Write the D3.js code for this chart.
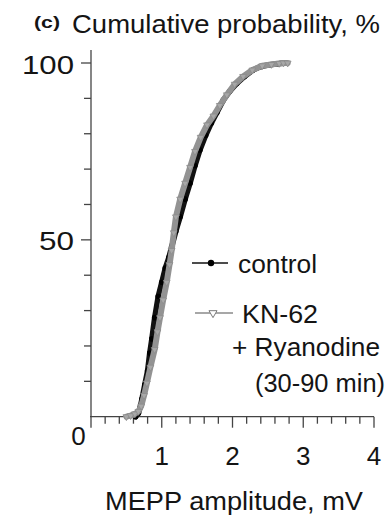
<!DOCTYPE html>
<html><head><meta charset="utf-8">
<script src="https://cdn.jsdelivr.net/npm/d3@7"></script>
<style>
html,body{margin:0;padding:0;background:#fff;}
svg{display:block;}
text{font-family:"Liberation Sans",Arial,sans-serif;fill:#141414;}
</style></head>
<body>
<svg id="chart" width="391" height="523"></svg>
<script>
// ---- data ----
const controlAmp = [0.63,0.67,0.70,0.72,0.76,0.80,0.83,0.86,0.90,0.95,1.00,1.05,1.10,1.14,1.20,1.26,1.33,1.40,1.47,1.54,1.62,1.70,1.78,1.87,1.96,2.06,2.17,2.29,2.40,2.52,2.65,2.74];
const controlPct = [0,1,3,5,9,13,18,22,28,34,38,42,45,48,52.5,56.5,61.5,66,71,75.4,79.5,83,86,89.5,92,94.2,96.2,98,99,99.5,99.8,100];
const knAmp = [0.50,0.56,0.62,0.67,0.71,0.75,0.79,0.84,0.90,0.94,0.975,1.02,1.07,1.11,1.14,1.17,1.20,1.26,1.33,1.40,1.47,1.55,1.64,1.73,1.82,1.92,2.03,2.15,2.28,2.42,2.55,2.66,2.72,2.78];
const knPct = [0,0.3,0.8,1.5,3,6,9.5,14,19,24,28,33,38,43,47,52,56.5,61.5,66,70.5,75,79,82.5,85,88,91,94,96.2,98,99.2,99.6,99.9,100,100];
const xTickLabels = ["1","2","3","4"];
const xTickValues = [1,2,3,4];
const yTickLabels = ["50","100"];
const yTickValues = [50,100];
const seriesNames = ["control","KN-62"];

const svg = d3.select("#chart");
const x = d3.scaleLinear().domain([0,4]).range([91,374]);
const y = d3.scaleLinear().domain([0,100]).range([416.7,63]);
const axisColor = "#444";

// y axis
const yMinor = d3.range(10,101,10).filter(v=>v!==50 && v!==100);
const gy = svg.append("g").attr("transform",`translate(${x(0)},0)`);
gy.append("line").attr("x1",0).attr("x2",0).attr("y1",y(0)).attr("y2",y(103.7))
  .attr("stroke",axisColor).attr("stroke-width",1.3);
gy.selectAll(".ymaj").data(yTickValues).join("line")
  .attr("x1",-10).attr("x2",0).attr("y1",d=>y(d)).attr("y2",d=>y(d))
  .attr("stroke",axisColor).attr("stroke-width",1.3);
gy.selectAll(".ymin").data(yMinor).join("line")
  .attr("x1",-7).attr("x2",0).attr("y1",d=>y(d)).attr("y2",d=>y(d))
  .attr("stroke",axisColor).attr("stroke-width",1.3);

// x axis
const xMinor = d3.range(0,4.001,0.2).filter(v=>Math.abs(v-Math.round(v))>1e-6);
const gx = svg.append("g").attr("transform",`translate(0,${y(0)})`);
gx.append("line").attr("x1",x(0)-1).attr("x2",x(4)).attr("y1",0).attr("y2",0)
  .attr("stroke",axisColor).attr("stroke-width",1.3);
gx.selectAll(".xmaj").data([0].concat(xTickValues)).join("line")
  .attr("x1",d=>x(d)).attr("x2",d=>x(d)).attr("y1",0).attr("y2",11)
  .attr("stroke",axisColor).attr("stroke-width",1.3);
gx.selectAll(".xmin").data(xMinor).join("line")
  .attr("x1",d=>x(d)).attr("x2",d=>x(d)).attr("y1",0).attr("y2",7)
  .attr("stroke",axisColor).attr("stroke-width",1.3);

// tick labels
const yLabW = {"50":35,"100":52};
svg.selectAll(".ylab").data(yTickValues).join("text")
  .attr("x",74).attr("y",d=>y(d)+10.5).attr("text-anchor","end")
  .attr("font-size",26).attr("textLength",(d,i)=>yLabW[yTickLabels[i]])
  .attr("lengthAdjust","spacingAndGlyphs").text((d,i)=>yTickLabels[i]);
svg.append("text").attr("x",78.5).attr("y",445).attr("text-anchor","middle")
  .attr("font-size",26).text("0");
svg.selectAll(".xlab").data(xTickValues).join("text")
  .attr("x",d=>x(d)).attr("y",465).attr("text-anchor","middle")
  .attr("font-size",26).text((d,i)=>xTickLabels[i]);

// titles
svg.append("text").attr("x",34).attr("y",28).attr("font-size",17).attr("font-weight","bold")
  .attr("textLength",26).attr("lengthAdjust","spacingAndGlyphs").text("(c)");
svg.append("text").attr("x",72).attr("y",33).attr("font-size",25.5)
  .attr("textLength",308).attr("lengthAdjust","spacingAndGlyphs").text("Cumulative probability, %");
svg.append("text").attr("x",105).attr("y",510).attr("font-size",25.5)
  .attr("textLength",258).attr("lengthAdjust","spacingAndGlyphs").text("MEPP amplitude, mV");

// series
const ctrl = controlAmp.map((a,i)=>({a,p:controlPct[i]}));
const kn = knAmp.map((a,i)=>({a,p:knPct[i]}));
const line = d3.line().x(d=>x(d.a)).y(d=>y(d.p));

svg.append("path").datum(ctrl).attr("d",line).attr("fill","none")
  .attr("stroke","#111").attr("stroke-width",5.5).attr("stroke-linejoin","round").attr("stroke-linecap","round");
svg.selectAll(".cdot").data(ctrl).join("circle")
  .attr("cx",d=>x(d.a)).attr("cy",d=>y(d.p)).attr("r",2.8).attr("fill","#000");

const tri = d3.symbol().type(d3.symbolTriangle).size(20);
svg.append("path").datum(kn).attr("d",line).attr("fill","none")
  .attr("stroke","#939393").attr("stroke-width",6).attr("stroke-linejoin","round").attr("stroke-linecap","round");
svg.selectAll(".ktri").data(kn).join("path")
  .attr("d",tri).attr("transform",d=>`translate(${x(d.a)},${y(d.p)}) rotate(180)`)
  .attr("fill","#a8a8a8").attr("stroke","#8c8c8c").attr("stroke-width",0.8);

// legend
const lg = svg.append("g");
lg.append("line").attr("x1",192).attr("x2",228).attr("y1",263).attr("y2",263)
  .attr("stroke","#111").attr("stroke-width",1.5);
lg.append("circle").attr("cx",211).attr("cy",263).attr("r",3.2).attr("fill","#000");
lg.append("text").attr("x",238).attr("y",273).attr("font-size",25.5)
  .attr("textLength",79).attr("lengthAdjust","spacingAndGlyphs").text(seriesNames[0]);

lg.append("line").attr("x1",195).attr("x2",233).attr("y1",313).attr("y2",313)
  .attr("stroke","#8a8a8a").attr("stroke-width",1.5);
lg.append("path").attr("d",d3.symbol().type(d3.symbolTriangle).size(28)).attr("transform","translate(213,313) rotate(180)")
  .attr("fill","#fff").attr("stroke","#7a7a7a").attr("stroke-width",1);
lg.append("text").attr("x",242).attr("y",323).attr("font-size",25.5)
  .attr("textLength",76).attr("lengthAdjust","spacingAndGlyphs").text(seriesNames[1]);
lg.append("text").attr("x",232).attr("y",356).attr("font-size",25.5)
  .attr("textLength",148).attr("lengthAdjust","spacingAndGlyphs").text("+ Ryanodine");
lg.append("text").attr("x",255).attr("y",392).attr("font-size",25.5)
  .attr("textLength",130).attr("lengthAdjust","spacingAndGlyphs").text("(30-90 min)");
</script>
</body></html>
